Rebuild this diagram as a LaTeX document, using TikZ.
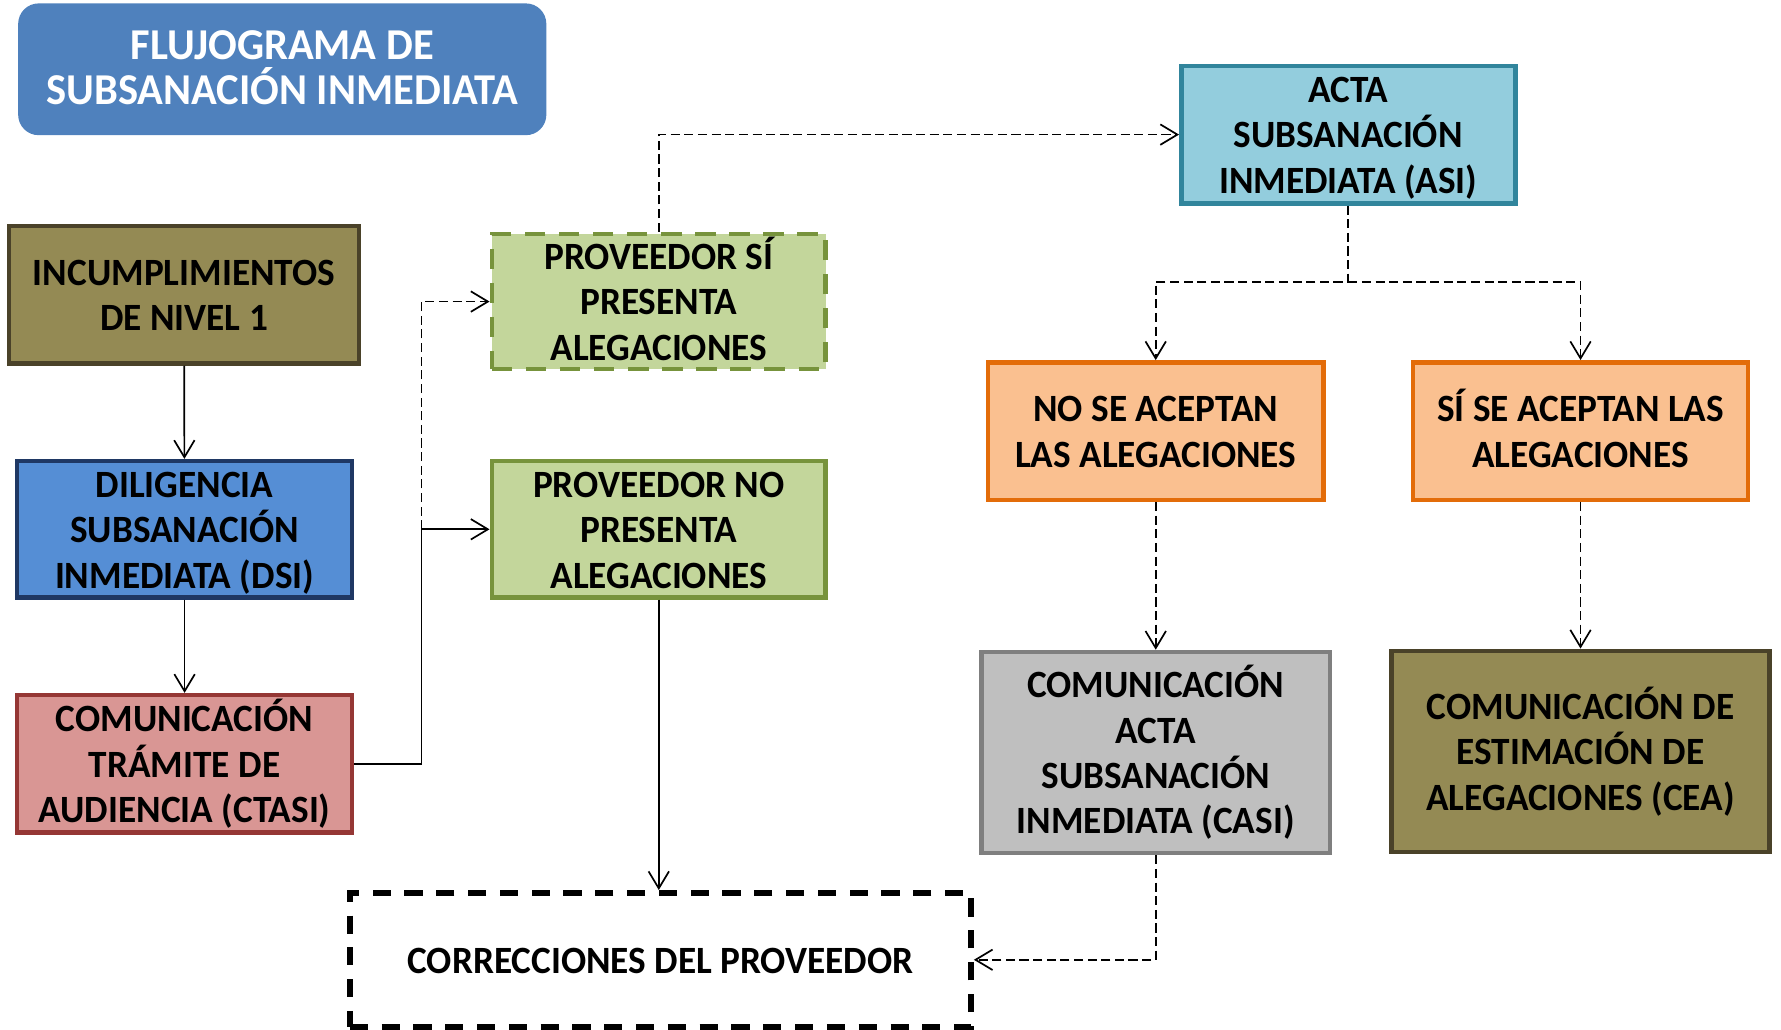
\documentclass[tikz,border=0pt]{standalone}
\usepackage{fontspec}
\setmainfont{Carlito}[FakeStretch=0.965]
\usetikzlibrary{arrows.meta}
\definecolor{titlebl}{HTML}{4F81BD}
\definecolor{olivef}{HTML}{948A54}
\definecolor{olived}{HTML}{4A4229}
\definecolor{bluef}{HTML}{558ED5}
\definecolor{blued}{HTML}{1F3864}
\definecolor{redf}{HTML}{D99694}
\definecolor{redd}{HTML}{953735}
\definecolor{greenf}{HTML}{C3D69B}
\definecolor{greend}{HTML}{77933C}
\definecolor{cyanf}{HTML}{93CDDD}
\definecolor{cyand}{HTML}{31859C}
\definecolor{orangef}{HTML}{FAC090}
\definecolor{oranged}{HTML}{E36C09}
\definecolor{grayf}{HTML}{BFBFBF}
\definecolor{grayd}{HTML}{7F7F7F}
\begin{document}
\begin{tikzpicture}[x=0.5pt,y=-0.5pt,
  box/.style={draw, line width=2pt, align=center, inner sep=0pt,
    font=\bfseries\fontsize{17}{20}\selectfont, text depth=0pt},
  lone/.style={text height=11.7pt},
  ltwo/.style={text height=31.7pt},
  lthree/.style={text height=51.7pt},
  lfour/.style={text height=71.7pt},
  conn/.style={line width=0.75pt, -{Straight Barb[length=7.5pt,width=9pt]}},
  dconn/.style={conn, dash pattern=on 4pt off 2pt},
]
\useasboundingbox (0,0) rectangle (1568,906);
\node[box, draw=titlebl, fill=titlebl, text=white, rounded corners=8pt,
  font=\bfseries\fontsize{19.4}{20}\selectfont, text height=31.3pt,
  minimum width=230.5pt, minimum height=56pt] (title) at (248.5,61)
  {FLUJOGRAMA DE\\SUBSANACIÓN INMEDIATA};
\node[box, ltwo, draw=olived, fill=olivef, minimum width=154pt, minimum height=60.5pt]
  (inc) at (162,259.5) {INCUMPLIMIENTOS\\DE NIVEL 1};
\node[box, lthree, draw=blued, fill=bluef, minimum width=147.5pt, minimum height=60pt]
  (dsi) at (162.5,466) {DILIGENCIA\\SUBSANACIÓN\\INMEDIATA (DSI)};
\node[box, lthree, draw=redd, fill=redf, minimum width=147.5pt, minimum height=60.5pt]
  (ctasi) at (162.5,672.5) {COMUNICACIÓN\\TRÁMITE DE\\AUDIENCIA (CTASI)};
\node[box, lthree, draw=greend, fill=greenf, dash pattern=on 9pt off 6pt,
  minimum width=147pt, minimum height=59.5pt]
  (psi) at (580,265.5) {PROVEEDOR SÍ\\PRESENTA\\ALEGACIONES};
\node[box, lthree, draw=greend, fill=greenf, minimum width=147pt, minimum height=60pt]
  (pno) at (580,466) {PROVEEDOR NO\\PRESENTA\\ALEGACIONES};
\node[box, lone, draw=black, fill=white, line width=2.4pt, dash pattern=on 8pt off 6pt,
  minimum width=273.5pt, minimum height=59pt]
  (corr) at (581.5,845) {CORRECCIONES DEL PROVEEDOR};
\node[box, lthree, draw=cyand, fill=cyanf, minimum width=147pt, minimum height=60.5pt]
  (acta) at (1187,118.5) {ACTA\\SUBSANACIÓN\\INMEDIATA (ASI)};
\node[box, ltwo, draw=oranged, fill=orangef, minimum width=147.5pt, minimum height=60.5pt]
  (no) at (1017.5,379.5) {NO SE ACEPTAN\\LAS ALEGACIONES};
\node[box, ltwo, draw=oranged, fill=orangef, minimum width=147.5pt, minimum height=60.5pt]
  (si) at (1391.5,379.5) {SÍ SE ACEPTAN LAS\\ALEGACIONES};
\node[box, lfour, draw=grayd, fill=grayf, minimum width=153.5pt, minimum height=88.5pt]
  (casi) at (1017.5,662.5) {COMUNICACIÓN\\ACTA\\SUBSANACIÓN\\INMEDIATA (CASI)};
\node[box, lthree, draw=olived, fill=olivef, minimum width=166.5pt, minimum height=88.5pt]
  (cea) at (1391.5,661.5) {COMUNICACIÓN DE\\ESTIMACIÓN DE\\ALEGACIONES (CEA)};
% connectors
\coordinate (j1) at (371,466);
\coordinate (j2) at (1187,248);
\draw[conn] (inc) -- (dsi);
\draw[conn] (dsi) -- (ctasi);
\draw[conn] (ctasi.east) -| (j1) -- (pno.west);
\draw[dconn] (j1) |- (psi.west);
\draw[conn] (pno.south) -- (pno.south |- corr.north);
\draw[dconn] (psi.north) |- (acta.west);
\draw[dconn] (acta.south) -- (j2) -| (no.north);
\draw[dconn] (j2) -| (si.north);
\draw[dconn] (no) -- (casi);
\draw[dconn] (si) -- (cea);
\draw[dconn] (casi.south) |- (corr.east);
\end{tikzpicture}
\end{document}
